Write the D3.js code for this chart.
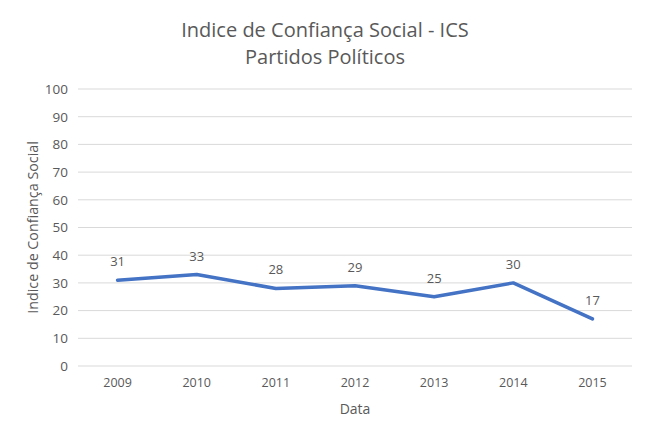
<!DOCTYPE html>
<html><head><meta charset="utf-8">
<script src="https://cdn.jsdelivr.net/npm/d3@7"></script>
<style>body{margin:0;background:#fff}svg{display:block}text{font-family:"Open Sans",sans-serif;fill:#595959}</style>
</head><body>
<svg id="c" width="650" height="439"></svg>
<script>
const categories = ["2009","2010","2011","2012","2013","2014","2015"];
const values = [31,33,28,29,25,30,17];
const yTicks = [0,10,20,30,40,50,60,70,80,90,100];
const titleLines = ["Indice de Confiança Social - ICS","Partidos Políticos"];

const svg = d3.select("#c");
const m = {l:78,r:18,t:89,b:73};
const W=650,H=439;
const x = d3.scaleBand().domain(categories).range([m.l, W-m.r]);
const y = d3.scaleLinear().domain([0,100]).range([H-m.b, m.t]);

svg.append("g").selectAll("line").data(yTicks).join("line")
  .attr("x1",m.l).attr("x2",W-m.r).attr("y1",d=>y(d)).attr("y2",d=>y(d))
  .attr("stroke","#d9d9d9").attr("stroke-width",1);

const ya = svg.append("g").attr("transform",`translate(${m.l},0)`)
  .call(d3.axisLeft(y).tickValues(yTicks).tickSize(0).tickPadding(10));
ya.select(".domain").remove();
ya.selectAll("text").attr("font-size",13.5).style("font-family","Open Sans").attr("fill","#595959");

const xa = svg.append("g").attr("transform",`translate(0,${H-m.b})`)
  .call(d3.axisBottom(x).tickSize(0).tickPadding(12));
xa.select(".domain").remove();
xa.selectAll("text").attr("font-size",12.5).style("font-family","Open Sans").attr("fill","#595959");

const line = d3.line().x((d,i)=>x(categories[i])+x.bandwidth()/2).y(d=>y(d));
svg.append("path").datum(values).attr("d",line).attr("fill","none")
  .attr("stroke","#4472C4").attr("stroke-width",3.5).attr("stroke-linejoin","round").attr("stroke-linecap","round");

svg.append("g").selectAll("text").data(values).join("text")
  .attr("x",(d,i)=>x(categories[i])+x.bandwidth()/2).attr("y",d=>y(d)-14)
  .attr("text-anchor","middle").attr("font-size",13).text(d=>d);

svg.append("g").selectAll("text").data(titleLines).join("text")
  .attr("x",325).attr("y",(d,i)=>37+i*27).attr("text-anchor","middle").attr("font-size",20).text(d=>d);

svg.append("text").attr("x",(m.l+W-m.r)/2).attr("y",414).attr("text-anchor","middle").attr("font-size",14).text("Data");
svg.append("text").attr("transform",`translate(38,${(y(0)+y(100))/2}) rotate(-90)`).attr("text-anchor","middle").attr("font-size",14.3).text("Indice de Confiança Social");
</script>
</body></html>
